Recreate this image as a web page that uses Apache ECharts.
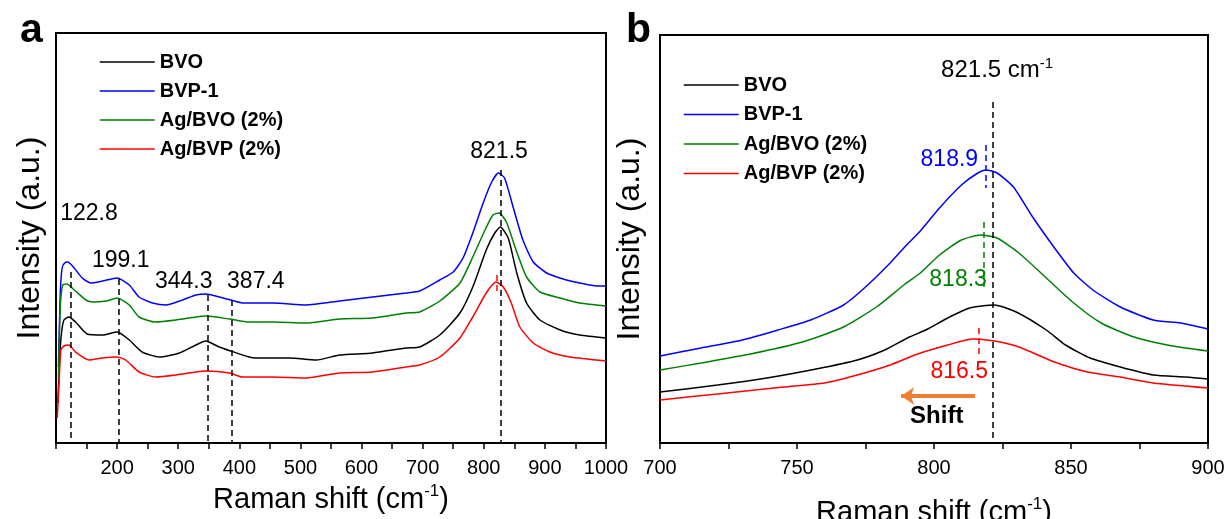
<!DOCTYPE html>
<html>
<head>
<meta charset="utf-8">
<script src="https://cdn.jsdelivr.net/npm/echarts@6/dist/echarts.min.js"></script>
<style>
html,body{margin:0;padding:0;background:#fff;}
#c{width:1231px;height:519px;}
</style>
</head>
<body>
<div id="c"></div>
<script>
// ---------- DATA ----------
const seriesNames = ['BVO', 'BVP-1', 'Ag/BVO (2%)', 'Ag/BVP (2%)'];
const seriesColors = ['#000000', '#0000FF', '#008000', '#FF0000'];

// Panel a: [Raman shift, intensity (arb.)]
const bvoA = [[103,40],[106,85],[109,110],[113,123],[121,126],[132,121],[151,109],[176,108],[200,111],[220,103],[241,91],[269,86],[302,90],[329,98],[345,102],[367,96],[386,92],[416,86],[427,85],[482,85],[526,83],[564,88],[618,90],[673,95],[695,96],[728,108],[761,130],[782,156],[804,193],[818,210],[827,216],[840,205],[854,170],[870,140],[892,123],[925,113],[957,108],[1000,105]];
const bvp1A = [[104,76],[107,150],[110,175],[114,180],[119,181],[127,177],[143,165],[157,160],[176,162],[200,165],[220,158],[236,146],[258,140],[280,138],[307,143],[329,148],[345,149],[367,146],[386,143],[405,140],[455,140],[509,138],[564,142],[618,146],[673,150],[695,152],[728,163],[750,171],[766,185],[782,210],[799,240],[813,261],[824,270],[834,265],[848,236],[864,203],[881,181],[903,170],[930,164],[957,160],[985,157],[1000,157]];
const agBvoA = [[104,63],[107,136],[111,158],[118,159],[130,153],[149,143],[160,141],[182,142],[200,145],[220,138],[236,126],[263,121],[296,123],[329,126],[345,127],[384,124],[416,121],[455,121],[509,120],[564,124],[618,125],[673,130],[695,131],[728,142],[761,160],[782,186],[802,213],[815,228],[825,230],[837,221],[854,191],[870,166],[892,151],[925,145],[957,140],[1000,137]];
const agBvpA = [[102,25],[105,60],[108,93],[113,97],[121,98],[132,91],[154,83],[176,85],[200,86],[214,83],[236,71],[263,66],[296,68],[329,71],[345,72],[384,70],[405,66],[455,66],[509,65],[564,70],[618,71],[673,76],[695,78],[728,86],[761,105],[782,126],[804,150],[820,161],[832,156],[845,140],[859,116],[881,100],[908,91],[941,86],[1000,82]];

// Panel b: zoom 700-900
const bvoB = [[700,51],[721,58],[739,65],[757,74],[772,83],[782,93],[791,106],[797,113],[805,125],[813,135],[822,138],[830,131],[841,113],[848,98],[857,85],[868,76],[880,68],[892,66],[900,64]];
const bvp1B = [[700,87],[715,95],[730,103],[743,113],[755,123],[767,138],[775,156],[784,180],[790,198],[795,212],[802,235],[810,258],[816,270],[819,273],[823,270],[829,256],[836,226],[844,195],[851,170],[858,153],[868,136],[880,123],[890,120],[900,114]];
const agBvoB = [[700,73],[715,80],[733,89],[752,101],[767,116],[779,136],[789,158],[795,170],[802,188],[810,203],[817,208],[823,205],[831,190],[841,165],[851,140],[861,120],[873,106],[887,97],[900,92]];
const agBvpB = [[700,43],[721,49],[745,56],[760,60],[772,68],[784,78],[794,89],[805,98],[814,104],[822,102],[831,96],[844,81],[856,71],[868,66],[880,60],[900,55]];

// peak annotations
const peakLabelsA = ['122.8', '199.1', '344.3', '387.4', '821.5'];
const peakLabelsB = ['821.5', '818.9', '818.3', '816.5'];

// ---------- CHART ----------
const FONT = 'Arial, "Liberation Sans", sans-serif';
const chart = echarts.init(document.getElementById('c'), null, {renderer: 'canvas'});

const dash = {type: [6, 4], color: '#000', width: 1.5};

function xAxisCfg(gi, min, max, interval, labelStep, gap) {
  return {
    gridIndex: gi, type: 'value', min: min, max: max, interval: interval,
    axisLine: {show: false},
    axisTick: {show: true, inside: false, length: 6, lineStyle: {color: '#000', width: 1.5}},
    axisLabel: {fontSize: 20, color: '#000', fontFamily: FONT, margin: 15,
      formatter: v => (v % labelStep === 0 && !(gi === 0 && v === min)) ? String(v) : ''},
    splitLine: {show: false},
    name: '{t|Raman shift (cm}{s|-1}{t|)}',
    nameLocation: 'middle', nameGap: gap,
    nameTextStyle: {rich: {
      t: {fontSize: 29, fontFamily: FONT, color: '#000', lineHeight: 34},
      s: {fontSize: 17, fontFamily: FONT, color: '#000', lineHeight: 17, verticalAlign: 'top'}
    }}
  };
}
function yAxisCfg(gi, max, gap) {
  return {
    gridIndex: gi, type: 'value', min: 0, max: max,
    axisLine: {show: false}, axisTick: {show: false}, axisLabel: {show: false}, splitLine: {show: false},
    name: 'Intensity (a.u.)', nameLocation: 'middle', nameRotate: 90, nameGap: gap,
    nameTextStyle: {fontSize: 32, fontFamily: FONT, color: '#000'}
  };
}
function lineSeries(name, color, data, gi, extra) {
  return Object.assign({
    name: name, type: 'line', xAxisIndex: gi, yAxisIndex: gi, data: data,
    symbol: 'none', smooth: 0.2, lineStyle: {color: color, width: 1.5}, itemStyle: {color: color},
    animation: false, z: 3
  }, extra || {});
}
function legendCfg(left, top, gap) {
  return {
    orient: 'vertical', left: left, top: top, padding: 0, itemWidth: 55, itemHeight: 16, itemGap: gap,
    data: seriesNames, selectedMode: false,
    itemStyle: {opacity: 0},
    lineStyle: {width: 1.5},
    textStyle: {fontSize: 20, fontWeight: 'bold', fontFamily: FONT, color: '#000', lineHeight: 16}
  };
}
function label(text, coord, color, pos, size, bold) {
  return {coord: coord, symbol: 'circle', symbolSize: 0, value: text,
    label: {show: true, position: pos || 'inside', distance: 0, formatter: text, color: color,
      fontSize: size || 23, fontFamily: FONT, fontWeight: bold ? 'bold' : 'normal'}};
}

const option = {
  backgroundColor: '#fff',
  animation: false,
  grid: [
    {left: 56, top: 33, width: 550, height: 410, show: true, borderColor: '#000', borderWidth: 2,
     backgroundColor: 'transparent', containLabel: false, outerBoundsMode: 'none'},
    {left: 660, top: 35, width: 548, height: 408, show: true, borderColor: '#000', borderWidth: 2,
     backgroundColor: 'transparent', containLabel: false, outerBoundsMode: 'none'}
  ],
  xAxis: [xAxisCfg(0, 100, 1000, 50, 100, 40), xAxisCfg(1, 700, 900, 25, 50, 53)],
  yAxis: [yAxisCfg(0, 410, 10), yAxisCfg(1, 408, 14)],
  legend: [legendCfg(99, 52, 9), legendCfg(683, 75, 9.5)],
  graphic: [
    {type: 'text', x: 20, y: 31, style: {text: 'a', font: 'bold 41px ' + FONT, fill: '#000', textVerticalAlign: 'middle'}},
    {type: 'text', x: 626, y: 31, style: {text: 'b', font: 'bold 41px ' + FONT, fill: '#000', textVerticalAlign: 'middle'}}
  ],
  series: [
    lineSeries(seriesNames[0], seriesColors[0], bvoA, 0, {
      markLine: {silent: true, symbol: 'none', animation: false, label: {show: false},
        data: [
          [{coord: [124.5, 171], lineStyle: dash}, {coord: [124.5, 0]}],
          [{coord: [203, 164], lineStyle: dash}, {coord: [203, 0]}],
          [{coord: [347.5, 148], lineStyle: dash}, {coord: [347.5, 0]}],
          [{coord: [388, 143], lineStyle: dash}, {coord: [388, 0]}],
          [{coord: [827.5, 273], lineStyle: dash}, {coord: [827.5, 0]}],
          [{coord: [820.5, 168], lineStyle: {type: [6, 4], color: '#FF0000', width: 1.5}}, {coord: [820.5, 148]}]
        ]},
      markPoint: {silent: true, animation: false, data: [
        label(peakLabelsA[0], [154, 229], '#000'),
        label(peakLabelsA[1], [206, 182], '#000'),
        label(peakLabelsA[2], [309, 161], '#000'),
        label(peakLabelsA[3], [427, 161], '#000'),
        label(peakLabelsA[4], [825, 291], '#000')
      ]}
    }),
    lineSeries(seriesNames[1], seriesColors[1], bvp1A, 0),
    lineSeries(seriesNames[2], seriesColors[2], agBvoA, 0),
    lineSeries(seriesNames[3], seriesColors[3], agBvpA, 0),

    lineSeries(seriesNames[0], seriesColors[0], bvoB, 1, {
      markLine: {silent: true, symbol: 'none', animation: false, label: {show: false},
        data: [
          [{coord: [821.5, 341], lineStyle: dash}, {coord: [821.5, 0]}],
          [{coord: [818.9, 298], lineStyle: {type: [6, 4], color: '#0000FF', width: 1.5}}, {coord: [818.9, 255]}],
          [{coord: [818.3, 221], lineStyle: {type: [6, 4], color: '#008000', width: 1.5}}, {coord: [818.3, 156]}],
          [{coord: [816.5, 115], lineStyle: {type: [6, 4], color: '#FF0000', width: 1.5}}, {coord: [816.5, 88]}],
          [{coord: [815, 47], symbol: 'none', lineStyle: {type: 'solid', color: '#ED7D31', width: 4}},
           {coord: [788, 47], symbol: 'arrow', symbolSize: [13, 13]}]
        ]},
      markPoint: {silent: true, animation: false, data: [
        {coord: [802.6, 373], symbol: 'circle', symbolSize: 0,
          label: {show: true, position: 'right', distance: 0, formatter: '{t|821.5 cm}{s|-1}',
            rich: {t: {fontSize: 24, fontFamily: FONT, color: '#000', lineHeight: 28},
                   s: {fontSize: 15, fontFamily: FONT, color: '#000', lineHeight: 15, verticalAlign: 'top'}}}},
        label(peakLabelsB[1], [816.1, 283], '#0000FF', 'left'),
        label(peakLabelsB[2], [819.3, 163], '#008000', 'left'),
        label(peakLabelsB[3], [819.7, 71], '#FF0000', 'left'),
        label('Shift', [801, 27], '#000', 'inside', 24, true)
      ]}
    }),
    lineSeries(seriesNames[1], seriesColors[1], bvp1B, 1),
    lineSeries(seriesNames[2], seriesColors[2], agBvoB, 1),
    lineSeries(seriesNames[3], seriesColors[3], agBvpB, 1)
  ]
};
chart.setOption(option);
</script>
</body>
</html>
